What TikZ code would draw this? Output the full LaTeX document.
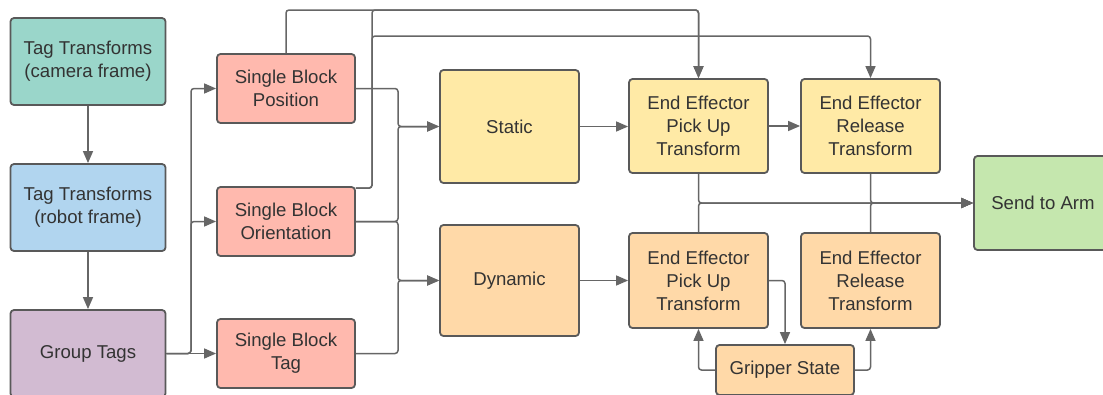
\documentclass[tikz,border=0pt]{standalone}
\usepackage{fontspec}
\setmainfont{Liberation Sans}
\usetikzlibrary{arrows.meta}
\definecolor{bordergray}{HTML}{595959}
\definecolor{linegray}{HTML}{666666}
\definecolor{textgray}{HTML}{333333}
\definecolor{cteal}{HTML}{9AD6CA}
\definecolor{cblue}{HTML}{B1D5EF}
\definecolor{cpurple}{HTML}{D2BBD2}
\definecolor{cpink}{HTML}{FFB9AE}
\definecolor{cyellow}{HTML}{FFEAA6}
\definecolor{corange}{HTML}{FFD9A8}
\definecolor{cgreen}{HTML}{C5E7AE}
\tikzset{
  box/.style={draw=bordergray, line width=1.8pt, rounded corners=3.5pt, text=textgray,
    font=\fontsize{18.6}{23}\selectfont, align=center, inner sep=0pt},
  wire/.style={draw=linegray, line width=1.5pt, rounded corners=3pt},
  arr/.style={wire, -{Triangle[length=12pt,width=10pt]}},
}
\begin{document}
\begin{tikzpicture}[x=1pt,y=-1pt]
\useasboundingbox (0,0) rectangle (1103,394);
\clip (0,0) rectangle (1103,394);
% nodes
\node[box, fill=cteal, minimum width=155pt, minimum height=87pt] (cam) at (88,61.5) {Tag Transforms\\(camera frame)};
\node[box, fill=cblue, minimum width=155pt, minimum height=87pt] (rob) at (88,207.5) {Tag Transforms\\(robot frame)};
\node[box, fill=cpurple, minimum width=155pt, minimum height=87pt] (grp) at (88,353.5) {Group Tags};
\node[box, fill=cpink, minimum width=138pt, minimum height=69pt] (pos) at (286,88.5) {Single Block\\Position};
\node[box, fill=cpink, minimum width=138pt, minimum height=69pt] (ori) at (286,221.5) {Single Block\\Orientation};
\node[box, fill=cpink, minimum width=138pt, minimum height=69pt] (tag) at (286,353.5) {Single Block\\Tag};
\node[box, fill=cyellow, minimum width=139pt, minimum height=113pt] (sta) at (509.5,126.5) {Static};
\node[box, fill=corange, minimum width=139pt, minimum height=111pt] (dyn) at (509.5,280.5) {Dynamic};
\node[box, fill=cyellow, minimum width=139pt, minimum height=94pt] (pu1) at (698.5,126) {End Effector\\Pick Up\\Transform};
\node[box, fill=cyellow, minimum width=139pt, minimum height=94pt] (rl1) at (870.5,126) {End Effector\\Release\\Transform};
\node[box, fill=corange, minimum width=139pt, minimum height=95pt] (pu2) at (698.5,280.5) {End Effector\\Pick Up\\Transform};
\node[box, fill=corange, minimum width=139pt, minimum height=95pt] (rl2) at (870.5,280.5) {End Effector\\Release\\Transform};
\node[box, fill=cgreen, minimum width=138pt, minimum height=94pt] (arm) at (1043,203) {Send to Arm};
\node[box, fill=corange, minimum width=138pt, minimum height=50pt] (grip) at (785,370) {Gripper State};
% helper coordinates
\coordinate (g) at (191,0);
\coordinate (m) at (398,0);
\coordinate (u) at (372,0);
\coordinate (t1) at (0,10);
\coordinate (t2) at (0,36);
% connectors
\draw[arr] (cam) -- (rob);
\draw[arr] (rob) -- (grp);
\draw[arr] (grp.east) -- (tag.west);
\draw[arr] (grp.east) -- (grp.east -| g) |- (pos.west);
\draw[arr] (grp.east) -- (grp.east -| g) |- (ori.west);
\draw[arr] (pos.east) -- (pos.east -| m) |- (sta.west);
\draw[arr] (ori.east) -- (ori.east -| m) |- (sta.west);
\draw[arr] (ori.east) -- (ori.east -| m) |- (dyn.west);
\draw[arr] (tag.east) -- (tag.east -| m) |- (dyn.west);
\draw[arr] (pos.north) -- (pos.north |- t1) -| (pu1.north);
\draw[arr] ([yshift=-2pt]ori.north east) -| (u |- t1) -| (pu1.north);
\draw[arr] ([yshift=-2pt]ori.north east) -| (u |- t2) -| (rl1.north);
\draw[arr] (sta.east) -- (sta.east -| pu1.west);
\draw[arr] (pu1) -- (rl1);
\draw[arr] (dyn.east) -- (dyn.east -| pu2.west);
\draw[arr] (pu1.south) |- (arm.west);
\draw[arr] (pu2.north) |- (arm.west);
\draw[arr] (rl1.south) |- (arm.west);
\draw[arr] (rl2.north) |- (arm.west);
\draw[arr] (pu2.east) -| (grip.north);
\draw[arr] (grip.west) -| (pu2.south);
\draw[arr] (grip.east) -| (rl2.south);
\end{tikzpicture}
\end{document}
